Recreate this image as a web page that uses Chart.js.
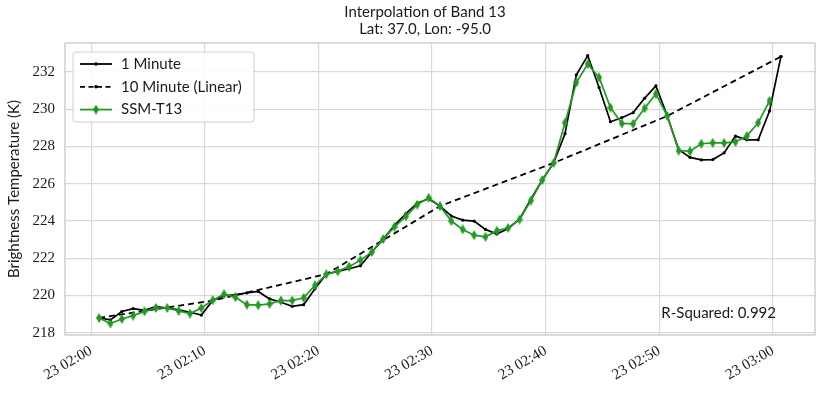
<!DOCTYPE html>
<html>
<head>
<meta charset="utf-8">
<script src="https://cdn.jsdelivr.net/npm/chart.js@4/dist/chart.umd.min.js"></script>
<style>
  html, body { margin: 0; padding: 0; background: #fff; }
  #wrap { width: 831px; height: 394px; }
</style>
</head>
<body>
<div id="wrap"><canvas id="bandChart" width="831" height="394"></canvas></div>
<script>
// === Datos (minutos desde 23 02:00) ===
const startMinute = 0.7;
const oneMinute = [
  218.80, 218.69, 219.14, 219.30, 219.20, 219.40, 219.33, 219.23, 219.10, 218.95,
  219.73, 220.00, 220.04, 220.14, 220.22, 219.82, 219.64, 219.42, 219.51, 220.36,
  221.15, 221.30, 221.44, 221.60, 222.34, 223.03, 223.77, 224.40, 224.96, 225.20,
  224.80, 224.27, 224.05, 224.00, 223.55, 223.30, 223.60, 224.10, 225.17, 226.20,
  227.12, 228.69, 231.85, 232.88, 231.17, 229.33, 229.55, 229.82, 230.59, 231.26,
  229.64, 227.84, 227.42, 227.28, 227.30, 227.66, 228.56, 228.36, 228.36, 229.91,
  232.83
];
const ssmT13 = [
  218.79, 218.50, 218.74, 218.92, 219.15, 219.33, 219.33, 219.17, 219.03, 219.33,
  219.75, 220.07, 219.91, 219.51, 219.48, 219.55, 219.73, 219.73, 219.88, 220.54,
  221.14, 221.30, 221.55, 221.90, 222.34, 223.03, 223.69, 224.25, 224.88, 225.25,
  224.80, 224.00, 223.55, 223.24, 223.15, 223.47, 223.63, 224.08, 225.10, 226.20,
  227.12, 229.28, 231.44, 232.43, 231.71, 230.09, 229.24, 229.22, 230.05, 230.83,
  229.64, 227.78, 227.75, 228.15, 228.20, 228.20, 228.25, 228.56, 229.28, 230.45
];
const tenMinute = [218.80, 219.73, 221.15, 224.80, 227.12, 229.64, 232.83];
const xTicks = [0, 10, 20, 30, 40, 50, 60];
const yTicks = [218, 220, 222, 224, 226, 228, 230, 232];
const rSquared = '0.992';

const sansFont = 'Lato, "DejaVu Sans", sans-serif';
const serifFont = '"Liberation Serif", "DejaVu Serif", serif';

const toPoints = (arr, step) => arr.map((v, i) => ({ x: startMinute + i * step, y: v }));

function tickLabel(m) {
  const h = 2 + Math.floor(m / 60);
  const mm = m % 60;
  return '23 ' + String(h).padStart(2, '0') + ':' + String(mm).padStart(2, '0');
}

const green = '#229a22';

// marcador de diamante fino (como 'd' de matplotlib)
const diamond = document.createElement('canvas');
diamond.width = 6; diamond.height = 10;
(() => {
  const c = diamond.getContext('2d');
  c.fillStyle = green;
  c.beginPath();
  c.moveTo(3, 0); c.lineTo(6, 5); c.lineTo(3, 10); c.lineTo(0, 5);
  c.closePath(); c.fill();
})();

// === Título, caja, leyenda y texto R² ===
const extras = {
  id: 'extras',
  beforeDatasetsDraw(chart) {
    const { ctx, chartArea: a } = chart;
    ctx.save();
    ctx.strokeStyle = '#cccccc';
    ctx.lineWidth = 1.4;
    ctx.strokeRect(a.left, a.top, a.right - a.left, a.bottom - a.top);
    ctx.restore();
  },
  afterDraw(chart) {
    const { ctx, chartArea: a } = chart;
    ctx.save();
    ctx.fillStyle = '#1a1a1a';
    ctx.font = '15px ' + sansFont;
    ctx.textAlign = 'center';
    ctx.textBaseline = 'middle';
    ctx.fillText('Interpolation of Band 13', 425, 12);
    ctx.fillText('Lat: 37.0, Lon: -95.0', 425, 29);

    // R-Squared
    ctx.textAlign = 'right';
    ctx.fillText('R-Squared: ' + rSquared, a.right - 39, a.bottom - 22);

    // leyenda
    const bx = a.left + 8, by = a.top + 9, bw = 181, bh = 70;
    ctx.fillStyle = 'rgba(255,255,255,0.85)';
    ctx.strokeStyle = '#d0d0d0';
    ctx.lineWidth = 1;
    ctx.beginPath();
    ctx.roundRect(bx, by, bw, bh, 3);
    ctx.fill(); ctx.stroke();

    const items = [
      { label: '1 Minute', color: '#000', dash: [], mark: 'dot' },
      { label: '10 Minute (Linear)', color: '#000', dash: [5, 3.5], mark: 'dot' },
      { label: 'SSM-T13', color: green, dash: [], mark: 'diamond' }
    ];
    items.forEach((it, k) => {
      const y = by + 12 + k * 22.8;
      const x0 = bx + 7, x1 = bx + 39;
      ctx.strokeStyle = it.color;
      ctx.lineWidth = 1.8;
      ctx.setLineDash(it.dash);
      ctx.beginPath(); ctx.moveTo(x0, y); ctx.lineTo(x1, y); ctx.stroke();
      ctx.setLineDash([]);
      const cx = (x0 + x1) / 2;
      if (it.mark === 'dot') {
        ctx.fillStyle = it.color;
        ctx.beginPath(); ctx.arc(cx, y, 1.8, 0, Math.PI * 2); ctx.fill();
      } else {
        ctx.drawImage(diamond, cx - 3, y - 5);
      }
      ctx.fillStyle = '#1a1a1a';
      ctx.textAlign = 'left';
      ctx.fillText(it.label, bx + 48, y);
    });
    ctx.restore();
  }
};

const ctx = document.getElementById('bandChart').getContext('2d');

new Chart(ctx, {
  type: 'line',
  data: {
    datasets: [
      {
        label: 'SSM-T13',
        data: toPoints(ssmT13, 1),
        borderColor: green,
        backgroundColor: green,
        borderWidth: 1.7,
        pointStyle: diamond,
        pointRadius: 4,
        tension: 0,
        order: 0
      },
      {
        label: '10 Minute (Linear)',
        data: toPoints(tenMinute, 10),
        borderColor: '#000',
        backgroundColor: '#000',
        borderWidth: 1.8,
        borderDash: [6, 4],
        pointRadius: 1.6,
        pointBorderWidth: 0,
        tension: 0,
        order: 1
      },
      {
        label: '1 Minute',
        data: toPoints(oneMinute, 1),
        borderColor: '#000',
        backgroundColor: '#000',
        borderWidth: 1.7,
        pointRadius: 1.6,
        pointBorderWidth: 0,
        tension: 0,
        order: 2
      }
    ]
  },
  options: {
    responsive: false,
    animation: false,
    devicePixelRatio: 1,
    layout: { padding: { top: 43, right: 16, left: 0, bottom: 0 } },
    plugins: {
      legend: { display: false },
      title: { display: false },
      tooltip: { enabled: false }
    },
    scales: {
      x: {
        type: 'linear',
        min: startMinute - 3,
        max: startMinute + 60 + 3,
        afterFit: s => { s.height = 59; },
        afterBuildTicks: s => { s.ticks = xTicks.map(v => ({ value: v })); },
        border: { display: false },
        grid: { color: '#d9d9d9', lineWidth: 1.2, drawTicks: false },
        ticks: {
          minRotation: 30,
          maxRotation: 30,
          padding: 7,
          color: '#1a1a1a',
          font: { family: serifFont, size: 15 },
          callback: v => tickLabel(v)
        }
      },
      y: {
        min: 217.88,
        max: 233.56,
        afterFit: s => { s.width = 65; },
        afterBuildTicks: s => { s.ticks = yTicks.map(v => ({ value: v })); },
        border: { display: false },
        grid: { color: '#d9d9d9', lineWidth: 1.2, drawTicks: false },
        ticks: {
          padding: 10,
          color: '#1a1a1a',
          font: { family: serifFont, size: 15 }
        },
        title: {
          display: true,
          text: 'Brightness Temperature (K)',
          color: '#1a1a1a',
          font: { family: sansFont, size: 15 },
          padding: { top: 5, bottom: 0 }
        }
      }
    }
  },
  plugins: [extras]
});
</script>
</body>
</html>
